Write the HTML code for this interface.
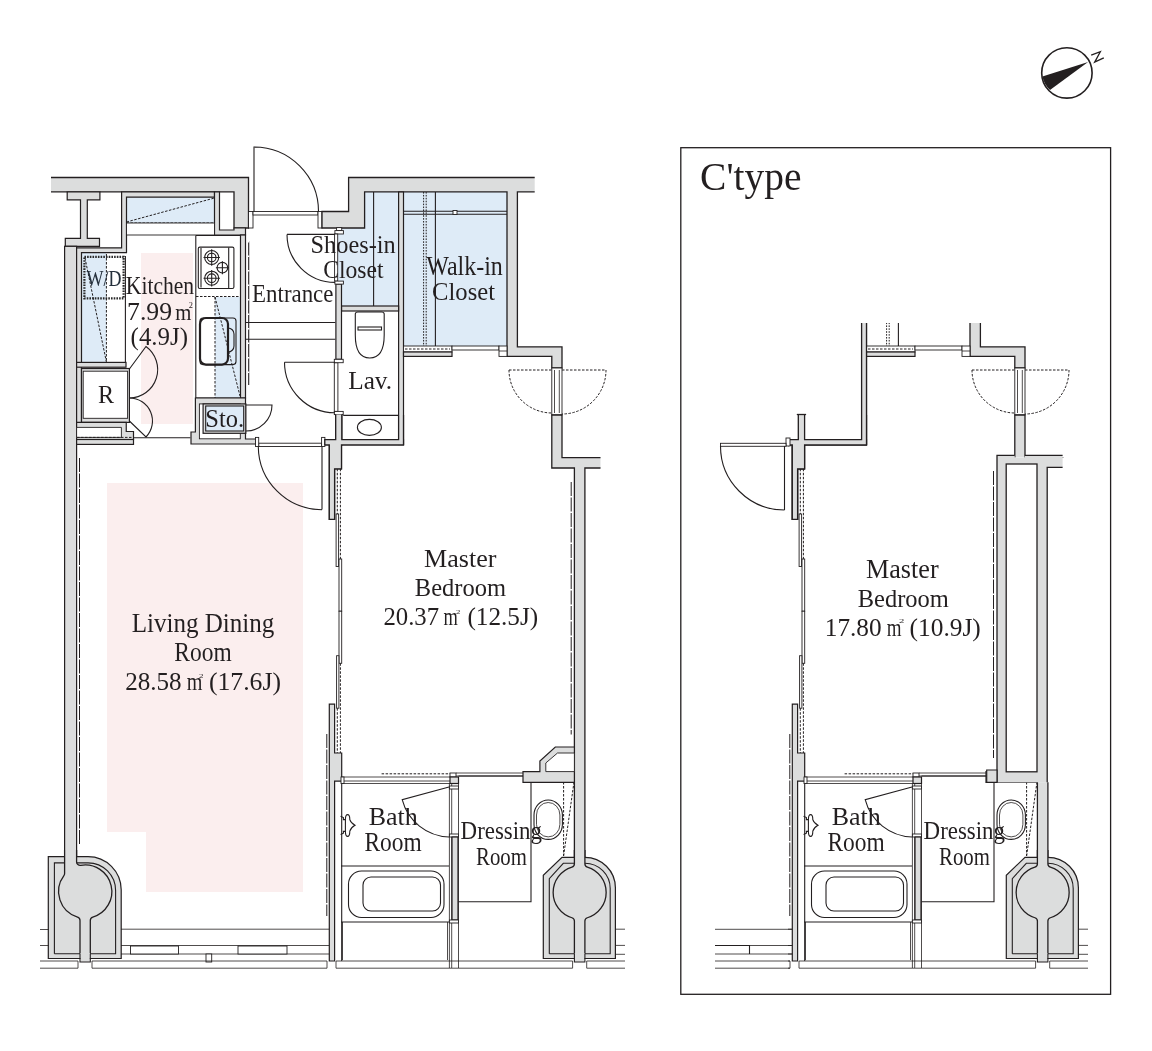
<!DOCTYPE html>
<html><head><meta charset="utf-8"><style>
html,body{margin:0;padding:0;background:#fff;width:1152px;height:1051px;overflow:hidden}
svg{display:block;will-change:transform}
.w{fill:#dcdddd;stroke:#231f20;stroke-width:1.2}
.l{fill:none;stroke:#231f20;stroke-width:1.1}
.lt{fill:none;stroke:#231f20;stroke-width:0.8}
.d{fill:none;stroke:#231f20;stroke-width:1;stroke-dasharray:2.5 1.5}
.d2{fill:none;stroke:#231f20;stroke-width:1;stroke-dasharray:1.6 1.3}
.dd{fill:none;stroke:#2a2a2a;stroke-width:2.2;stroke-dasharray:1.6 1.1}
.dw{fill:none;stroke:#fff;stroke-width:1.4;stroke-dasharray:1.5 13}
.dw2{fill:none;stroke:#231f20;stroke-width:1;stroke-dasharray:14 1.5}
.w0{fill:#dcdddd}
.l2{fill:none;stroke:#231f20;stroke-width:1.3}
.wf0{fill:#fff;stroke:none}
.wf1{fill:#fff;stroke:#231f20;stroke-width:1.3}
.wf{fill:#fff;stroke:#231f20;stroke-width:0.9}
.b{fill:#deebf7}
.p{fill:#fbeeee}
.k{fill:#231f20}
.zz{fill:none;stroke:#231f20;stroke-width:1.3}
.tb{fill:#25303c}
text{font-family:"Liberation Serif",serif;fill:#231f20}
</style></head><body>
<svg width="1152" height="1051" viewBox="0 0 1152 1051">
<path class="p" d="M141,253H193V424H141Z"/>
<path class="p" d="M107,483H303V892H146V832H107Z"/>
<rect class="b" x="126.5" y="197.2" width="88.0" height="25.8"/>
<rect class="b" x="81.5" y="253" width="24.9" height="109"/>
<rect class="b" x="215" y="297" width="25.5" height="101"/>
<path class="b" d="M337.7,228H364.6V192H398.6V306H341.5V284H337.7Z"/>
<rect class="b" x="403.5" y="192" width="103.5" height="154"/>
<g id="L">
<path class="w0" d="M51,177.5H248.5V228H234V191.8H51Z"/>
<path class="l2" d="M51,177.5H248.5V228H234V191.8H51"/>
<path class="w" d="M67.2,191.8H99.9V199.8H87.3V238.3H99.5V246.3H65.3V238.3H80.5V199.8H67.2Z"/>
<path class="w" d="M121.6,191.8V247.8H76.3V424H81.5V252.7H126.5V197.2H214.5V191.8Z"/>
<rect class="w" x="64.6" y="246.3" width="12.0" height="610.7"/>
<path class="w" d="M214.5,191.8V235H245.5V228H234V230H219.5V191.8Z"/>
<rect class="w" x="240.5" y="235" width="5.0" height="163"/>
<path class="d" d="M126.5,223H214.5"/>
<path class="d" d="M126.5,222L214.5,198"/>
<rect class="wf" x="126.5" y="223" width="88.0" height="12"/>
<path class="l" d="M195.8,235.5V398H240.5"/>
<path class="l" d="M195.8,235.5H240.5"/>
<rect class="wf1" x="198.3" y="247.1" width="35.6" height="41.4" rx="1.5" style="stroke-width:1.1"/>
<path class="l" d="M201,248V287.6"/>
<path class="l" d="M228.7,247.6V288"/>
<circle class="l" cx="211.7" cy="257.5" r="7"/>
<circle class="l" cx="211.7" cy="257.5" r="4.3"/>
<path class="l" d="M203.5,257.5H219.9M211.7,249.3V265.7"/>
<circle class="l" cx="211.7" cy="278.2" r="7"/>
<circle class="l" cx="211.7" cy="278.2" r="4.3"/>
<path class="l" d="M203.5,278.2H219.9M211.7,270.0V286.4"/>
<circle class="l" cx="222.4" cy="267.7" r="5.3"/>
<path class="l" d="M215.9,267.7H228.9M222.4,261.2V274.2"/>
<path class="d" d="M196,296.5H240.5"/>
<path class="d" d="M215,297V398M215,297L240,396"/>
<rect class="l" x="200" y="318" width="36" height="46.6" rx="3"/>
<rect x="200" y="318" width="28" height="46.6" rx="6" style="fill:none;stroke:#231f20;stroke-width:2.2"/>
<path class="l" d="M228,328A6,6 0 0 1 234,334V346A6,6 0 0 1 228,352"/>
<rect class="dd" x="84.4" y="256.8" width="39.2" height="41.6"/>
<path class="d" d="M106.4,254V362M85,258L106.4,362"/>
<path class="l" d="M125.4,256V362.8"/>
<rect class="w" x="76.6" y="362.4" width="49.4" height="4.8"/>
<rect class="w" x="81.5" y="368.5" width="47.9" height="53.9"/>
<rect class="wf" x="83.2" y="371.2" width="44.4" height="47.1"/>
<path class="l" d="M129.4,369L146,346.5A28.5,28.5 0 0 1 129.4,398"/>
<path class="l" d="M129.4,421L146,437A23,23 0 0 0 129.4,398"/>
<path class="w" d="M76.6,422.4H126.25V431.5H133.5V439.5H76.6Z"/>
<path class="wf" d="M76.6,427.4H121.4V437.4H76.6Z"/>
<path class="d" d="M77,437.4H133.5"/>
<rect class="w" x="76.6" y="439.5" width="56.9" height="4.9"/>
<path class="l" d="M133.5,437.8H190.4"/>
<path class="w" d="M195.4,398H245.5V439H256V444H191V432H195.4Z"/>
<rect class="wf" x="199.4" y="403.9" width="40.9" height="34.9"/>
<rect class="w" x="203.1" y="403.9" width="42.7" height="29.4"/>
<rect class="b" x="205.7" y="406" width="38.0" height="25"/>
<rect class="l" x="205.7" y="406" width="38.0" height="25"/>
<path class="l" d="M246,405H272A26,26 0 0 1 246,431"/>
<rect class="wf" x="248.5" y="211.5" width="4.5" height="16.5"/>
<rect class="wf" x="253" y="211.5" width="65" height="3.5"/>
<path class="l" d="M254,211.5V147A64.5,64.5 0 0 1 318.5,211.5"/>
<rect class="wf" x="318" y="211.5" width="4" height="16.5"/>
<path class="w0" d="M318,211.5H348.6V177.5H534.7V191.8H517.4V346.8H562V368H551.8V356.4H507V191.8H364.6V228H322V211.5Z"/>
<path class="l2" d="M534.7,191.8H517.4V346.8H562V368H551.8V356.4H507V191.8H364.6V228H322V211.5H348.6V177.5H534.7"/>
<rect class="wf" x="551.8" y="368" width="10.2" height="47"/>
<path class="lt" d="M554.5,370V413M559.3,370V413"/>
<path class="d" d="M509,370H552M562,370H606"/>
<path class="d" d="M509,370A43,43 0 0 0 552,413M606,370A44,44 0 0 1 562,414"/>
<path class="w0" d="M551.8,415H562V457.6H600.5V468H584.9V857.3H574.4V468H551.8Z"/>
<path class="l2" d="M600.5,457.6H562V415H551.8V468H574.4V857.3M584.9,857.3V468H600.5"/>
<rect class="w" x="398.6" y="192" width="4.9" height="252.5"/>
<path class="l" d="M373.6,192V306"/>
<path class="d2" d="M423.6,192V346M426.2,192V346"/>
<path class="l" d="M435.4,192V346"/>
<path class="l" d="M403.5,211.2H507M403.5,214.2H507"/>
<rect class="wf" x="453" y="210.5" width="4" height="4.0"/>
<rect class="wf" x="403.5" y="346" width="48.5" height="6"/>
<path class="d" d="M405,349H450"/>
<rect class="w" x="403.5" y="352" width="48.5" height="4.4"/>
<rect class="wf" x="452" y="346" width="47" height="4"/>
<rect class="wf" x="499" y="346" width="8" height="10.4"/>
<path class="lt" d="M499,351H507"/>
<rect class="wf" x="336.6" y="227.6" width="5.1" height="3.0"/>
<rect class="wf" x="334.9" y="230.6" width="8.5" height="3.4"/>
<rect class="wf" x="334.6" y="234" width="3.1" height="47.1"/>
<rect class="w" x="335.9" y="284.1" width="5.6" height="75.2"/>
<rect class="wf" x="334.9" y="281.1" width="8.5" height="3.0"/>
<rect class="wf" x="334.3" y="362.7" width="3.6" height="48.7"/>
<rect class="wf" x="334.3" y="359.3" width="8.9" height="3.4"/>
<rect class="w" x="335.7" y="414.6" width="6.1" height="30.4"/>
<rect class="wf" x="334.3" y="411.4" width="8.9" height="3.2"/>
<path class="l" d="M287,234.4H335M287,234.4A48,48 0 0 0 335,282.4"/>
<rect class="w" x="341.6" y="306" width="57.0" height="5"/>
<rect class="w" x="324.8" y="439.7" width="78.7" height="5.2"/>
<path class="l" d="M343.2,415.4H398.6"/>
<ellipse class="l" cx="369.4" cy="427.4" rx="12" ry="8"/>
<path class="l" d="M355.3,314Q355.3,312 358,312H381.5Q384.2,312 384.2,314V335Q384.2,358 369.7,358Q355.3,358 355.3,335Z"/>
<rect class="l" x="358" y="327" width="23.5" height="3"/>
<path class="l" d="M284.5,362.3H335M284.5,362.3A50.5,50.5 0 0 0 335,412.8"/>
<path class="l" d="M248.7,241V385"/>
<path class="dw" d="M248.7,241V385"/>
<path class="l" d="M245.5,322.5H335.3M245.5,339.3H335.3"/>
<rect class="wf" x="258.7" y="443.2" width="62.9" height="3.3"/>
<rect class="wf" x="255.5" y="437.4" width="3.2" height="9.1"/>
<rect class="wf" x="321.6" y="437.4" width="3.3" height="9.1"/>
<path class="l" d="M322,446.5V509.5M258.3,446.5A63.7,63.7 0 0 0 322,509.7"/>
<g id="Lbed">
<path class="w" d="M329.3,444.9H341.5V468.8H334.6V519.4H329.3Z"/>
<path class="d" d="M337.3,468.8V514M340.4,468.8V559"/>
<rect class="wf" x="336.1" y="514" width="2.5" height="52.5"/>
<rect class="wf" x="339" y="559" width="2.7" height="52.2"/>
<rect class="wf" x="339" y="611.2" width="2.7" height="52.1"/>
<rect class="wf" x="336.6" y="655.7" width="2.3" height="52.5"/>
<path class="d" d="M337.3,708.2V753M340.4,663.3V753"/>
<path class="w" d="M329.3,704.1H334.6V753H341.7V781.2H334.6V961H329.3Z"/>
<path class="l" d="M341.7,781.2V961"/>
<path class="dw2" d="M326.8,734V916"/>
<path class="dw2" d="M79.5,458V844"/>
<path class="dw2" d="M571.2,482V734.5"/>
</g>
<g id="Lbath">
<path class="d" d="M381.6,773.8H450"/>
<path class="lt" d="M341,777H450M341,781H450M341,783.5H450"/>
<rect class="wf" x="341" y="777" width="3" height="6.5"/>
<rect class="wf" x="450" y="773" width="6" height="4"/>
<rect class="w" x="450" y="777" width="8.5" height="6.5"/>
<path class="lt" d="M456,773H523.2M456,776H523.2"/>
<path class="lt" d="M449.4,783.5V968M451.7,783.5V968M458.5,783.5V968"/>
<rect class="wf" x="449.4" y="786" width="9.1" height="3"/>
<rect class="wf" x="449.4" y="834" width="9.1" height="3"/>
<rect class="w" x="452" y="837" width="6" height="83"/>
<rect class="wf" x="449.4" y="920" width="9.1" height="3"/>
<path class="l" d="M449,787L402.2,799.7A50,50 0 0 0 449,837"/>
<path class="l" d="M340.6,816.2L343.4,817.6V819.6H345.4M345.4,831.4H343.4V833.2L340.6,834.4"/>
<path class="l" d="M345.4,819.6Q345.4,814.6 347.6,814.6Q349.8,814.6 349.8,819.6Q350.8,823 355,825.2Q350.8,827.6 349.8,831.2Q349.8,836.4 347.6,836.4Q345.4,836.4 345.4,831.2Z"/>
<path class="l" d="M341,866H449M341,922H449"/>
<rect class="l" x="348.5" y="871" width="95.5" height="46.5" rx="13"/>
<rect class="l" x="363" y="877" width="77.5" height="34" rx="8"/>
<path class="lt" d="M342.5,922V960M447.5,922V960"/>
<path class="l" d="M458.5,776H531V901.7H458.5"/>
<path class="w" d="M523,771.6H539.9V761L555.3,747H574.4V782.3H523Z"/>
<path class="wf" d="M545.8,771.6V763L557.5,753H574.4V771.6Z"/>
<rect class="l" x="534" y="800" width="28.4" height="39.4" rx="14.2" ry="15"/>
<rect class="lt" x="536.5" y="802.5" width="23.4" height="34.4" rx="11.7" ry="12.5"/>
<path class="d" d="M563.6,782V856M574,782L563.6,856"/>
</g>
<path class="w" d="M48.3,958.5V856.6H88A33.2,33.2 0 0 1 121.2,889.8V958.5Z"/>
<path class="l" d="M54.4,953.8V862.9H64.6M76.6,862.9H88A27.6,27.6 0 0 1 115.6,890.5V953.8H90.3M80,953.8H54.4"/>
<rect class="w0" x="64.6" y="850" width="12.0" height="20"/>
<path class="l2" d="M64.60,850.00V873.57A3.5,3.5 0 0 1 63.90,875.66A26.6,26.6 0 0 0 77.51,917.06A3.5,3.5 0 0 1 80.00,920.42V953.80M90.30,953.80V920.45A3.5,3.5 0 0 1 92.80,917.09A26.6,26.6 0 0 0 80.69,865.38A3.5,3.5 0 0 1 76.60,861.94V850.00"/>
<rect class="w0" x="80.5" y="953" width="9.3" height="9"/>
<path class="l" d="M80,953.8V962H90.3V953.8"/>
<g id="Lcol">
<path class="w" d="M543.3,958.5V875.3L562,857.3H584.9A30.5,30.5 0 0 1 615.4,887.8V958.5Z"/>
<path class="l" d="M549.3,953.8V878.6L563.3,863.3H574.4M584.9,863.3A25.3,25.3 0 0 1 610.2,888.6V953.8H584.9M574.4,953.8H549.3"/>
<rect class="w0" x="574.4" y="850" width="10.5" height="18"/>
<path class="l2" d="M574.40,850.00V863.70A3.5,3.5 0 0 1 571.92,867.05A26.5,26.5 0 0 0 571.92,917.75A3.5,3.5 0 0 1 574.40,921.10V953.80M584.90,953.80V921.10A3.5,3.5 0 0 1 587.38,917.75A26.5,26.5 0 0 0 587.38,867.05A3.5,3.5 0 0 1 584.90,863.70V850.00"/>
<rect class="w0" x="574.9" y="953" width="9.5" height="9"/>
<path class="l" d="M574.4,953.8V962H584.9V953.8"/>
</g>
<g id="Lbot">
<path class="lt" d="M121,929.2H329M121,945.5H329M121,954H329"/>
<rect class="wf" x="130.5" y="946" width="48.0" height="8"/>
<rect class="wf" x="238" y="946" width="49" height="8"/>
<rect class="wf" x="206" y="954" width="5.7" height="8"/>
<path class="lt" d="M40,961H78M92,961H327M40,968.2H78M92,968.2H327M78,961V968.2M92,961V968.2M327,961V968.2"/>
<path class="lt" d="M336,961H572.6M586.7,961H625M336,968.2H572.6M586.7,968.2H625M572.6,961V968.2M586.7,961V968.2M336,961V968.2"/>
<path class="lt" d="M615.4,929.2H625M615.4,945.4H625M615.4,954.3H625"/>
<path class="lt" d="M40,929.5H48.7M40,945.5H48.7"/>
</g>
<path class="w0" d="M335.7,414.6H341.8V439.7H398.6V415H403.5V444.9H341.5V468.8H334.6V519.4H329.3V444.9H324.8V439.7H335.7Z"/>
<path class="l2" d="M403.5,415V444.9H341.5V468.8H334.6V519.4H329.3V444.9H324.8V439.7H335.7V414.6M341.8,414.6V439.7H398.6V415"/>
</g>
<rect x="680.8" y="147.7" width="429.8" height="846.6" style="fill:none;stroke:#231f20;stroke-width:1.3"/>
<circle cx="1066.9" cy="72.9" r="25.2" style="fill:none;stroke:#231f20;stroke-width:1.6"/>
<path class="k" d="M1088.1,62.1L1042.4,76.4A25.2,25.2 0 0 0 1050,89.9Z"/>
<path class="zz" d="M1091.2,55.2L1100.3,51.7L1094.7,62.1L1103.8,57.8"/>
<defs><clipPath id="c1"><rect x="398" y="323" width="230" height="134.5"/><rect x="333" y="417" width="9" height="29"/><rect x="325" y="439" width="79" height="7"/><rect x="325" y="445" width="30" height="530"/><rect x="336" y="740" width="198" height="42.3"/><rect x="336" y="782.3" width="290" height="200"/></clipPath></defs>
<g clip-path="url(#c1)" transform="translate(463,0)"><use href="#L"/></g>
<path class="w0" d="M798.3,414.5H804.6V439.7H861.6V323H866.5V444.9H804.6V468.8H797.6V519.4H792.3V444.9H788V439.7H798.3Z"/>
<path class="l2" d="M861.6,323V439.7H804.6V414.5M798.3,414.5V439.7H788V444.9H792.3V519.4H797.6V468.8H804.6V444.9H866.5V323"/>
<path class="l2" d="M796.8,414.5H806.1"/>
<rect class="wf" x="786" y="438" width="4" height="8"/>
<rect class="wf" x="720.5" y="443.3" width="65.5" height="3.0"/>
<path class="l" d="M784.5,446V510M720.5,446A64,64 0 0 0 784.5,510"/>
<path class="w0" d="M997,782.3V455.4H1014.7V457.7H1024.7V455.4H1062.6V467.4H1047.2V782.3Z"/>
<path class="l2" d="M1062.6,455.4H1024.7M1014.7,455.4H997V782.3M1047.2,782.3V467.4H1062.6"/>
<path class="w" d="M986.7,770H997V782.3H986.7Z"/>
<rect class="wf1" x="1006.2" y="464" width="30.8" height="307.8"/>
<path class="dw2" d="M993.5,471V758"/>
<path class="lt" d="M715,929.3H792.3M715,945.5H792.3M715,954H792.3M715,961H790M715,968.2H790"/>
<path class="l" d="M715,945.5H749.5V954"/>
<text class="tb" x="86.40" y="286.0" font-size="23.67" textLength="34.98" lengthAdjust="spacingAndGlyphs">W/D</text>
<text x="125.80" y="293.7" font-size="25.50" textLength="68.34" lengthAdjust="spacingAndGlyphs">Kitchen</text>
<text x="127.10" y="319.7" font-size="26.12" textLength="44.98" lengthAdjust="spacingAndGlyphs">7.99</text>
<text x="175.30" y="319.7" font-size="23.77" textLength="16.15" lengthAdjust="spacingAndGlyphs">m</text>
<text x="188.80" y="307.5" font-size="7.40" textLength="4.16" lengthAdjust="spacingAndGlyphs">2</text>
<text x="130.60" y="344.7" font-size="24.65" textLength="57.50" lengthAdjust="spacingAndGlyphs">(4.9J)</text>
<text x="98.00" y="402.8" font-size="25.81" textLength="16.07" lengthAdjust="spacingAndGlyphs">R</text>
<text x="205.30" y="426.6" font-size="25.22" textLength="38.85" lengthAdjust="spacingAndGlyphs">Sto.</text>
<text x="252.10" y="301.5" font-size="25.66" textLength="81.34" lengthAdjust="spacingAndGlyphs">Entrance</text>
<text x="310.60" y="252.6" font-size="24.32" textLength="85.05" lengthAdjust="spacingAndGlyphs">Shoes-in</text>
<text x="323.20" y="278.2" font-size="24.32" textLength="60.43" lengthAdjust="spacingAndGlyphs">Closet</text>
<text x="426.20" y="275.4" font-size="26.27" textLength="76.63" lengthAdjust="spacingAndGlyphs">Walk-in</text>
<text x="432.10" y="300.4" font-size="25.98" textLength="62.93" lengthAdjust="spacingAndGlyphs">Closet</text>
<text x="348.20" y="389.1" font-size="24.89" textLength="44.01" lengthAdjust="spacingAndGlyphs">Lav.</text>
<text x="424.10" y="566.6" font-size="26.12" textLength="72.33" lengthAdjust="spacingAndGlyphs">Master</text>
<text x="414.80" y="595.7" font-size="25.20" textLength="91.23" lengthAdjust="spacingAndGlyphs">Bedroom</text>
<text x="383.40" y="625.0" font-size="25.22" textLength="55.76" lengthAdjust="spacingAndGlyphs">20.37</text>
<text x="443.40" y="625.0" font-size="25.04" textLength="14.36" lengthAdjust="spacingAndGlyphs">m</text>
<text x="456.00" y="613.9" font-size="6.34" textLength="4.38" lengthAdjust="spacingAndGlyphs">2</text>
<text x="467.40" y="625.0" font-size="25.08" textLength="70.85" lengthAdjust="spacingAndGlyphs">(12.5J)</text>
<text x="131.70" y="631.9" font-size="26.42" textLength="142.71" lengthAdjust="spacingAndGlyphs">Living Dining</text>
<text x="174.30" y="660.7" font-size="26.57" textLength="57.37" lengthAdjust="spacingAndGlyphs">Room</text>
<text x="125.20" y="689.9" font-size="26.13" textLength="56.48" lengthAdjust="spacingAndGlyphs">28.58</text>
<text x="186.70" y="689.9" font-size="25.26" textLength="15.68" lengthAdjust="spacingAndGlyphs">m</text>
<text x="198.90" y="677.6" font-size="7.10" textLength="4.47" lengthAdjust="spacingAndGlyphs">2</text>
<text x="208.90" y="689.9" font-size="25.65" textLength="72.06" lengthAdjust="spacingAndGlyphs">(17.6J)</text>
<text x="368.70" y="825.2" font-size="25.96" textLength="49.02" lengthAdjust="spacingAndGlyphs">Bath</text>
<text x="364.40" y="850.7" font-size="26.88" textLength="57.33" lengthAdjust="spacingAndGlyphs">Room</text>
<text x="460.60" y="839.3" font-size="25.96" textLength="81.41" lengthAdjust="spacingAndGlyphs">Dressing</text>
<text x="476.10" y="864.5" font-size="25.20" textLength="50.84" lengthAdjust="spacingAndGlyphs">Room</text>
<text x="700.10" y="189.9" font-size="40.63" textLength="101.38" lengthAdjust="spacingAndGlyphs">C&#39;type</text>
<text x="866.00" y="577.7" font-size="26.57" textLength="72.61" lengthAdjust="spacingAndGlyphs">Master</text>
<text x="857.70" y="606.6" font-size="25.50" textLength="91.12" lengthAdjust="spacingAndGlyphs">Bedroom</text>
<text x="824.80" y="635.8" font-size="25.60" textLength="56.84" lengthAdjust="spacingAndGlyphs">17.80</text>
<text x="886.70" y="635.8" font-size="25.04" textLength="14.79" lengthAdjust="spacingAndGlyphs">m</text>
<text x="898.90" y="623.3" font-size="6.19" textLength="5.32" lengthAdjust="spacingAndGlyphs">2</text>
<text x="909.60" y="635.8" font-size="25.51" textLength="71.19" lengthAdjust="spacingAndGlyphs">(10.9J)</text>
<text x="831.70" y="825.2" font-size="25.96" textLength="49.02" lengthAdjust="spacingAndGlyphs">Bath</text>
<text x="827.40" y="850.7" font-size="26.88" textLength="57.33" lengthAdjust="spacingAndGlyphs">Room</text>
<text x="923.60" y="839.3" font-size="25.96" textLength="81.41" lengthAdjust="spacingAndGlyphs">Dressing</text>
<text x="939.10" y="864.5" font-size="25.20" textLength="50.84" lengthAdjust="spacingAndGlyphs">Room</text>
</svg></body></html>
